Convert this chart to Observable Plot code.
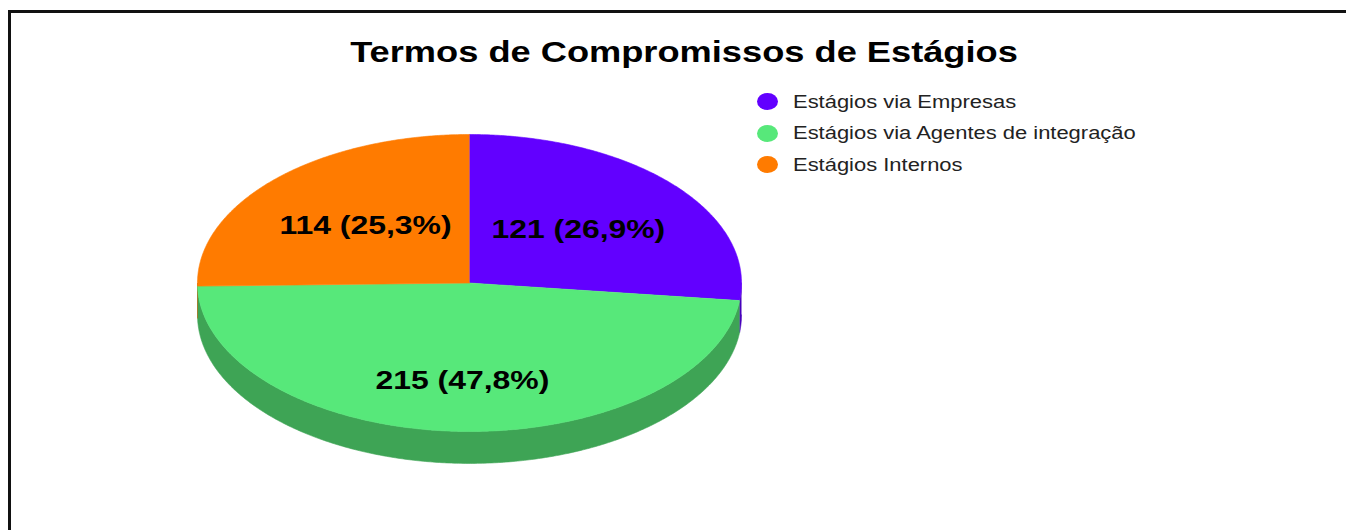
<!DOCTYPE html>
<html><head><meta charset="utf-8">
<script src="https://cdn.jsdelivr.net/npm/d3@7"></script>
<script src="https://cdn.jsdelivr.net/npm/@observablehq/plot@0.6"></script>
<style>
html,body{margin:0;padding:0;background:#fff;}
#wrap{position:relative;width:1346px;height:530px;overflow:hidden;font-family:"Liberation Sans",Arial,sans-serif;}
#chart{position:absolute;left:0;top:0;}
#frame{position:absolute;left:8px;top:10px;width:2000px;height:1000px;border-left:3px solid #111;border-top:3px solid #111;pointer-events:none;}
#title{position:absolute;left:683.5px;top:37px;font-size:30.2px;line-height:30px;font-weight:bold;color:#000;white-space:nowrap;transform:translateX(-50%) scaleX(1.2);}
#legend{position:absolute;left:757px;top:86px;}
.row{display:flex;align-items:center;height:31.6px;}
.sw{width:21px;height:17px;border-radius:50%;margin-right:15px;flex:none;}
.lt{font-size:18.3px;color:#222;transform:scaleX(1.2);transform-origin:left center;white-space:nowrap;}
</style></head>
<body>
<div id="wrap">
  <div id="chart"></div>
  <div id="frame"></div>
  <div id="title"></div>
  <div id="legend"></div>
</div>
<script>
const titleText = "Termos de Compromissos de Estágios";
const categories = ["Estágios via Empresas", "Estágios via Agentes de integração", "Estágios Internos"];
const values = [121, 215, 114];
const colors = ["#6200ff", "#57e87a", "#ff7b00"];
const sideColors = ["#4700bb", "#3ea455", "#bd5b00"];

document.getElementById("title").textContent = titleText;
const legend = document.getElementById("legend");
categories.forEach((c, i) => {
  const row = document.createElement("div"); row.className = "row";
  const sw = document.createElement("span"); sw.className = "sw"; sw.style.background = colors[i];
  const lt = document.createElement("span"); lt.className = "lt"; lt.textContent = c;
  row.appendChild(sw); row.appendChild(lt); legend.appendChild(row);
});

const total = d3.sum(values);
let acc = 0;
const slices = values.map((v, i) => {
  const a0 = acc / total * 2 * Math.PI; acc += v;
  const a1 = acc / total * 2 * Math.PI;
  return {cat: categories[i], value: v, a0, a1, pct: v / total * 100};
});
const depth = 0.215;
const step = Math.PI / 360;
function arcAngles(a0, a1) {
  const n = Math.max(2, Math.ceil((a1 - a0) / step));
  return d3.range(n + 1).map(k => a0 + (a1 - a0) * k / n);
}
const topPts = slices.flatMap(s => [
  {key: s.cat, x: 0, y: 0},
  ...arcAngles(s.a0, s.a1).map(t => ({key: s.cat, x: Math.sin(t), y: Math.cos(t)}))
]);
const sidePts = slices.flatMap(s => {
  const b0 = Math.max(s.a0, Math.PI / 2), b1 = Math.min(s.a1, 3 * Math.PI / 2);
  if (b1 <= b0) return [];
  const ts = arcAngles(b0, b1);
  const k = s.cat + " (lado)";
  return [
    ...ts.map(t => ({key: k, x: Math.sin(t), y: Math.cos(t)})),
    ...ts.slice().reverse().map(t => ({key: k, x: Math.sin(t), y: Math.cos(t) - depth}))
  ];
});
const labelData = slices.map(s => {
  const m = (s.a0 + s.a1) / 2;
  return {x: 0.535 * Math.sin(m), y: 0.613 * Math.cos(m) - 0.044,
          text: `${s.value} (${s.pct.toFixed(1).replace(".", ",")}%)`};
});

const chart = Plot.plot({
  width: 1346, height: 530, margin: 0,
  style: {background: "transparent"},
  x: {domain: [-1, 1], range: [197, 741], axis: null},
  y: {domain: [-1, 1], range: [431, 134], axis: null},
  color: {domain: [...categories, ...categories.map(c => c + " (lado)")], range: [...colors, ...sideColors]},
  marks: [
    Plot.line(sidePts, {x: "x", y: "y", z: "key", fill: "key", stroke: "key", strokeWidth: 0.6}),
    Plot.line(topPts, {x: "x", y: "y", z: "key", fill: "key", stroke: "key", strokeWidth: 0.6}),
    Plot.text(labelData, {x: "x", y: "y", text: "text", fontSize: 26.6, fontWeight: "bold", fill: "#000",
      fontFamily: "Liberation Sans, Arial, sans-serif"})
  ]
});
chart.querySelectorAll("text").forEach(t => {
  const tr = t.getAttribute("transform");
  if (tr) t.setAttribute("transform", tr + " scale(1.2,1)");
  else {
    const x = t.getAttribute("x") || 0, y = t.getAttribute("y") || 0;
    t.removeAttribute("x"); t.removeAttribute("y");
    t.setAttribute("transform", `translate(${x},${y}) scale(1.2,1)`);
  }
});
document.getElementById("chart").appendChild(chart);
</script>
</body></html>
